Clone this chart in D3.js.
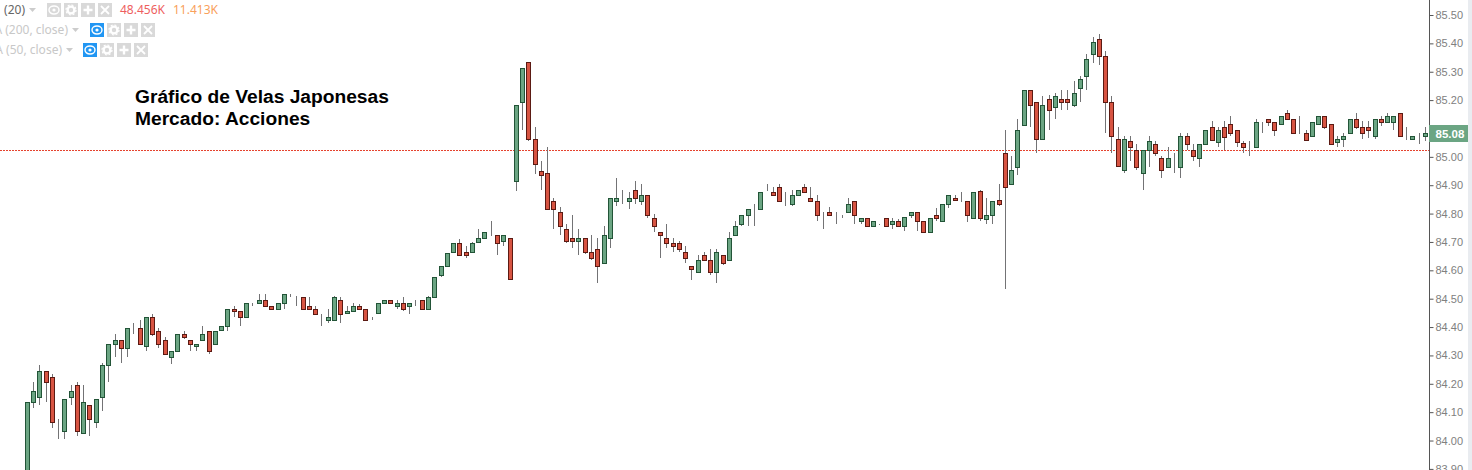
<!DOCTYPE html>
<html>
<head>
<meta charset="utf-8">
<title>Velas Japonesas</title>
<script src="https://cdn.jsdelivr.net/npm/d3@7"></script>
<style>
  html, body { margin: 0; padding: 0; background: #fff; overflow: hidden; }
  svg { display: block; }
  text { font-family: "Liberation Sans", Arial, sans-serif; }
</style>
</head>
<body>
<svg id="chart" width="1472" height="470"></svg>
<script>
// candle values, one entry per bar
const OPENS = [
  83.85,84.135,84.152,84.244,84.223,84.025,84.032,84.152,84.194,84.025,
  84.124,84.064,84.152,84.265,84.342,84.353,84.325,84.395,84.395,84.332,
  84.434,84.385,84.353,84.293,84.314,84.374,84.353,84.332,84.353,84.385,
  84.342,84.388,84.402,84.462,84.455,84.434,84.484,84.484,84.495,84.473,
  84.463,84.484,84.516,84.505,84.505,84.473,84.463,84.435,84.424,84.424,
  84.495,84.449,84.456,84.473,84.463,84.435,84.449,84.484,84.495,84.473,
  84.484,84.473,84.484,84.495,84.463,84.505,84.583,84.614,84.664,84.695,
  84.664,84.664,84.70,84.713,84.734,84.724,84.703,84.713,84.914,85.192,
  85.334,85.062,84.949,84.942,84.844,84.805,84.745,84.713,84.703,84.713,
  84.664,84.674,84.625,84.713,84.844,84.854,84.844,84.882,84.844,84.865,
  84.784,84.734,84.713,84.695,84.695,84.664,84.614,84.593,84.653,84.636,
  84.593,84.653,84.636,84.724,84.762,84.794,84.821,84.815,84.882,84.875,
  84.893,84.844,84.833,84.865,84.893,84.854,84.844,84.794,84.805,84.805,
  84.794,84.805,84.844,84.773,84.784,84.755,84.762,84.784,84.762,84.773,
  84.755,84.794,84.805,84.773,84.734,84.794,84.773,84.833,84.854,84.854,
  84.844,84.784,84.879,84.78,84.794,84.847,85.012,84.906,84.963,85.114,
  85.234,85.192,85.062,85.203,85.174,85.203,85.203,85.181,85.241,85.284,
  85.361,85.414,85.354,85.192,85.062,84.952,85.055,85.023,84.942,85.023,
  85.044,84.995,84.963,84.984,84.963,85.072,85.023,84.995,85.044,85.104,
  85.054,85.104,85.115,85.094,85.048,85.044,85.034,85.104,85.133,85.122,
  85.115,85.154,85.133,85.083,85.083,85.073,85.115,85.143,85.115,85.054,
  85.062,85.083,85.133,85.104,85.104,85.073,85.133,85.122,85.122,85.154,
  85.073,85.062,85.062,85.073
];
const HIGHS = [
  84.135,84.205,84.265,84.244,84.233,84.076,84.145,84.194,84.205,84.194,
  84.124,84.145,84.272,84.342,84.374,84.353,84.395,84.414,84.425,84.434,
  84.445,84.395,84.364,84.314,84.374,84.385,84.353,84.342,84.404,84.385,
  84.385,84.402,84.462,84.473,84.455,84.484,84.484,84.516,84.516,84.473,
  84.484,84.516,84.516,84.51,84.505,84.505,84.473,84.446,84.464,84.51,
  84.505,84.473,84.484,84.48,84.463,84.435,84.484,84.495,84.495,84.495,
  84.506,84.484,84.495,84.495,84.51,84.576,84.614,84.66,84.695,84.711,
  84.686,84.70,84.746,84.734,84.774,84.724,84.724,84.713,85.182,85.312,
  85.334,85.104,84.985,85.035,84.854,84.822,84.762,84.794,84.745,84.713,
  84.724,84.714,84.755,84.854,84.925,84.884,84.875,84.914,84.903,84.865,
  84.799,84.734,84.764,84.714,84.704,84.686,84.614,84.654,84.664,84.674,
  84.674,84.653,84.735,84.773,84.794,84.815,84.833,84.875,84.905,84.893,
  84.905,84.875,84.884,84.882,84.905,84.893,84.866,84.806,84.822,84.805,
  84.794,84.854,84.844,84.784,84.784,84.773,84.762,84.784,84.784,84.78,
  84.787,84.805,84.805,84.773,84.784,84.82,84.833,84.865,84.866,84.875,
  84.844,84.875,84.884,84.854,84.844,84.905,85.095,85.003,85.133,85.234,
  85.234,85.192,85.214,85.218,85.224,85.235,85.235,85.267,85.284,85.362,
  85.422,85.433,85.372,85.214,85.104,85.072,85.072,85.044,85.023,85.072,
  85.055,85.003,85.033,85.012,85.083,85.083,85.044,85.044,85.093,85.128,
  85.104,85.128,85.144,85.094,85.056,85.056,85.134,85.122,85.133,85.122,
  85.143,85.165,85.133,85.144,85.094,85.122,85.143,85.143,85.115,85.074,
  85.083,85.133,85.154,85.128,85.128,85.133,85.144,85.154,85.143,85.154,
  85.104,85.073,85.083,85.104
];
const LOWS = [
  83.85,84.116,84.126,84.137,84.045,84.006,84.006,84.126,84.017,84.025,
  84.017,84.045,84.105,84.207,84.295,84.274,84.295,84.375,84.342,84.315,
  84.37,84.327,84.304,84.271,84.314,84.357,84.317,84.317,84.353,84.306,
  84.342,84.388,84.387,84.436,84.404,84.434,84.475,84.484,84.473,84.463,
  84.463,84.465,84.507,84.475,84.463,84.463,84.445,84.405,84.413,84.424,
  84.416,84.449,84.456,84.463,84.424,84.426,84.449,84.484,84.484,84.465,
  84.458,84.447,84.475,84.463,84.463,84.505,84.578,84.614,84.664,84.653,
  84.645,84.664,84.70,84.713,84.72,84.654,84.686,84.569,84.878,85.095,
  85.057,84.938,84.884,84.815,84.747,84.726,84.698,84.677,84.655,84.658,
  84.638,84.557,84.625,84.677,84.825,84.835,84.816,84.835,84.832,84.786,
  84.735,84.645,84.677,84.663,84.663,84.627,84.567,84.593,84.636,84.585,
  84.557,84.617,84.636,84.724,84.757,84.757,84.757,84.815,84.878,84.865,
  84.844,84.825,84.825,84.865,84.875,84.844,84.775,84.747,84.794,84.765,
  84.786,84.805,84.765,84.765,84.755,84.755,84.758,84.755,84.747,84.755,
  84.737,84.786,84.74,84.734,84.731,84.775,84.773,84.818,84.847,84.842,
  84.772,84.784,84.775,84.765,84.765,84.825,84.535,84.906,84.937,85.114,
  85.106,85.015,85.062,85.096,85.134,85.166,85.166,85.177,85.194,85.237,
  85.332,85.325,85.085,85.015,84.966,84.944,84.987,84.955,84.884,84.965,
  85.004,84.927,84.963,84.944,84.927,85.024,84.987,84.965,85.044,85.056,
  85.036,85.024,85.075,85.036,85.015,85.004,85.034,85.083,85.107,85.075,
  85.115,85.133,85.083,85.08,85.056,85.073,85.115,85.097,85.044,85.036,
  85.036,85.083,85.097,85.064,85.066,85.064,85.107,85.122,85.095,85.073,
  85.058,85.058,85.047,85.057
];
const CLOSES = [
  84.135,84.173,84.244,84.205,84.064,84.025,84.145,84.173,84.032,84.135,
  84.075,84.145,84.265,84.342,84.353,84.325,84.395,84.395,84.342,84.434,
  84.374,84.342,84.304,84.314,84.374,84.364,84.342,84.342,84.374,84.314,
  84.385,84.402,84.462,84.455,84.434,84.484,84.484,84.495,84.473,84.463,
  84.484,84.516,84.516,84.505,84.463,84.463,84.445,84.435,84.435,84.505,
  84.445,84.456,84.473,84.463,84.424,84.435,84.484,84.495,84.484,84.484,
  84.463,84.484,84.484,84.463,84.505,84.576,84.614,84.66,84.695,84.653,
  84.653,84.695,84.713,84.734,84.734,84.695,84.724,84.569,85.182,85.312,
  85.062,84.974,84.935,84.815,84.815,84.755,84.703,84.703,84.713,84.664,
  84.643,84.614,84.724,84.854,84.854,84.854,84.854,84.854,84.865,84.794,
  84.755,84.724,84.695,84.685,84.674,84.643,84.604,84.636,84.636,84.593,
  84.664,84.625,84.713,84.755,84.794,84.815,84.821,84.875,84.882,84.865,
  84.844,84.844,84.865,84.882,84.875,84.844,84.794,84.794,84.794,84.805,
  84.794,84.833,84.794,84.784,84.755,84.773,84.762,84.755,84.773,84.755,
  84.787,84.805,84.773,84.734,84.784,84.784,84.833,84.865,84.847,84.854,
  84.794,84.875,84.784,84.794,84.844,84.833,84.892,84.952,85.093,85.234,
  85.181,85.062,85.181,85.164,85.213,85.192,85.192,85.224,85.273,85.344,
  85.404,85.354,85.192,85.072,84.966,85.062,85.033,84.963,85.023,85.055,
  85.012,84.952,84.995,84.984,85.072,85.044,85.002,85.044,85.093,85.06,
  85.094,85.07,85.083,85.054,85.034,85.044,85.122,85.104,85.122,85.093,
  85.143,85.133,85.083,85.083,85.06,85.122,85.143,85.104,85.044,85.062,
  85.073,85.133,85.104,85.083,85.094,85.133,85.122,85.143,85.143,85.073,
  85.073,85.073,85.062,85.083
];

// the only volume bar that reaches into the visible area
const VOLUME_INDEX = [77];
const VOLUME_VALUES = [48.456];

const PRICE_TICKS = [85.5,85.4,85.3,85.2,85.1,85,84.9,84.8,84.7,84.6,84.5,84.4,84.3,84.2,84.1,84,83.9];
const LAST_PRICE = 85.08;
const REF_LINE = 85.024;

const TITLE_LINES = ['Gráfico de Velas Japonesas', 'Mercado: Acciones'];
// labels are anchored at their right end, the left part runs off the page
const LEGEND_ROWS = [
  { label: '(20)', labelEnd: 25, labelColor: '#666', caretX: 29, y: 10, btnX: 47, eyeOn: false },
  { label: 'A (200, close)', labelEnd: 68, labelColor: '#c8c8c8', caretX: 72, y: 30, btnX: 90, eyeOn: true },
  { label: 'A (50, close)', labelEnd: 62, labelColor: '#c8c8c8', caretX: 66, y: 50, btnX: 83, eyeOn: true }
];
const LEGEND_VALUES = [
  { text: '48.456K', x: 120, color: '#ee5f5f' },
  { text: '11.413K', x: 173, color: '#f9a15b' }
];

const UP_FILL = '#6ba583', UP_BORDER = '#225437';
const DOWN_FILL = '#d75442', DOWN_BORDER = '#5b1a13';
const WICK = '#737375';

const SVG = d3.select('#chart');
const AXIS_X = 1429;

const X_SCALE = d3.scaleLinear().domain([0, OPENS.length - 1]).range([27.3, 1425.3]);
const Y_SCALE = d3.scaleLinear().domain([85.5, 83.9]).range([15, 468.9]);
const VOL_SCALE = d3.scaleLinear().domain([0, 100]).range([478, 462]);

const px = i => Math.floor(X_SCALE(i));
const py = v => Math.round(Y_SCALE(v));

const buildStrip = () => {
  SVG.append('rect').attr('x', 1468).attr('y', 0).attr('width', 4).attr('height', 470).attr('fill', '#e9ecf0');
}

const buildVolume = () => {
  SVG.append('g').selectAll('rect')
    .data(VOLUME_INDEX)
    .join('rect')
    .attr('x', d => px(d) - 2)
    .attr('y', (d, i) => VOL_SCALE(VOLUME_VALUES[i]))
    .attr('width', 5)
    .attr('height', (d, i) => 470 - VOL_SCALE(VOLUME_VALUES[i]))
    .attr('fill', '#f9a9a9');
}

const buildRefLine = () => {
  SVG.append('line')
    .attr('x1', 0).attr('x2', AXIS_X)
    .attr('y1', py(REF_LINE) + 0.5).attr('y2', py(REF_LINE) + 0.5)
    .attr('stroke', '#e5432f')
    .attr('stroke-dasharray', '2 1');
}

const buildCandles = () => {
  const candles = SVG.append('g').attr('id', 'candles');

  // wicks first, bodies go over them
  candles.selectAll('line.wick')
    .data(OPENS)
    .join('line')
    .attr('class', 'wick')
    .attr('x1', (d, i) => px(i) + 0.5)
    .attr('x2', (d, i) => px(i) + 0.5)
    .attr('y1', (d, i) => py(HIGHS[i]))
    .attr('y2', (d, i) => py(LOWS[i]))
    .attr('stroke', WICK);

  candles.selectAll('rect.body')
    .data(OPENS)
    .join('rect')
    .attr('class', 'body')
    .attr('x', (d, i) => px(i) - 1.5)
    .attr('y', (d, i) => py(Math.max(d, CLOSES[i])) + 0.5)
    .attr('width', 4)
    .attr('height', (d, i) => py(Math.min(d, CLOSES[i])) - py(Math.max(d, CLOSES[i])))
    .attr('fill', (d, i) => CLOSES[i] >= d ? UP_FILL : DOWN_FILL)
    .attr('stroke', (d, i) => CLOSES[i] >= d ? UP_BORDER : DOWN_BORDER);
}

const buildAxis = () => {
  const axis = d3.axisRight(Y_SCALE)
    .tickValues(PRICE_TICKS)
    .tickFormat(d3.format('.2f'))
    .tickSizeOuter(0)
    .tickSize(4)
    .tickPadding(2);
  const g = SVG.append('g')
    .attr('transform', `translate(${AXIS_X + 0.5},0)`)
    .call(axis);
  g.select('.domain').attr('d', 'M0,0V470').attr('stroke', '#555');
  g.selectAll('.tick line').attr('stroke', '#555');
  g.selectAll('.tick text').attr('fill', '#808080').style('font-size', '11px');

  // last price label sits on top of the 85.10 tick
  const labelY = py(LAST_PRICE);
  SVG.append('rect')
    .attr('x', AXIS_X).attr('y', labelY - 9)
    .attr('width', 39).attr('height', 17)
    .attr('fill', UP_FILL);
  SVG.append('text')
    .attr('x', AXIS_X + 6.5).attr('y', labelY + 3.5)
    .attr('fill', '#fff')
    .style('font-size', '11.5px').style('font-weight', 'bold')
    .text(d3.format('.2f')(LAST_PRICE));
}

const buildTitle = () => {
  SVG.append('g').selectAll('text')
    .data(TITLE_LINES)
    .join('text')
    .attr('x', 135)
    .attr('y', (d, i) => 103 + i * 22)
    .attr('fill', '#000')
    .style('font-size', '19.2px')
    .style('font-weight', 'bold')
    .text(d => d);
}

const buildIcon = (g, kind, x, y, on) => {
  const s = g.append('g').attr('transform', `translate(${x},${y})`);
  s.append('rect').attr('x', 0).attr('y', -7).attr('width', 14).attr('height', 14)
    .attr('fill', on ? '#2196f3' : '#d9d9d9');
  if (kind === 'eye') {
    s.append('ellipse').attr('cx', 7).attr('cy', 0).attr('rx', 5).attr('ry', 4)
      .attr('fill', 'none').attr('stroke', '#fff').attr('stroke-width', 1.4);
    s.append('circle').attr('cx', 7).attr('cy', 0).attr('r', 1.6).attr('fill', '#fff');
  } else if (kind === 'gear') {
    s.append('circle').attr('cx', 7).attr('cy', 0).attr('r', 3.4)
      .attr('fill', 'none').attr('stroke', '#fff').attr('stroke-width', 2.4);
    s.append('circle').attr('cx', 7).attr('cy', 0).attr('r', 5)
      .attr('fill', 'none').attr('stroke', '#fff').attr('stroke-width', 1.2).attr('stroke-dasharray', '2 1.9');
  } else if (kind === 'plus') {
    s.append('path').attr('d', 'M7,-4.5V4.5M2.5,0H11.5').attr('stroke', '#fff').attr('stroke-width', 2.4);
  } else {
    s.append('path').attr('d', 'M3,-4L11,4M11,-4L3,4').attr('stroke', '#fff').attr('stroke-width', 1.8);
  }
}

const buildLegend = () => {
  const g = SVG.append('g').attr('id', 'legend');
  LEGEND_ROWS.forEach(row => {
    g.append('text')
      .attr('x', row.labelEnd).attr('y', row.y + 4)
      .attr('text-anchor', 'end')
      .attr('fill', row.labelColor)
      .style('font-family', '"Noto Sans", sans-serif')
      .style('font-size', '12px')
      .text(row.label);
    g.append('path')
      .attr('d', `M${row.caretX},${row.y - 2}h7l-3.5,4z`)
      .attr('fill', '#ccc');
    ['eye', 'gear', 'plus', 'close'].forEach((kind, i) => {
      buildIcon(g, kind, row.btnX + i * 17, row.y, kind === 'eye' && row.eyeOn);
    });
  });
  g.selectAll('text.val')
    .data(LEGEND_VALUES)
    .join('text')
    .attr('class', 'val')
    .attr('x', d => d.x).attr('y', 14)
    .attr('fill', d => d.color)
    .style('font-family', '"Noto Sans", sans-serif')
    .style('font-size', '12px')
    .text(d => d.text);
}

buildStrip();
buildVolume();
buildRefLine();
buildCandles();
buildAxis();
buildTitle();
buildLegend();
</script>
</body>
</html>
